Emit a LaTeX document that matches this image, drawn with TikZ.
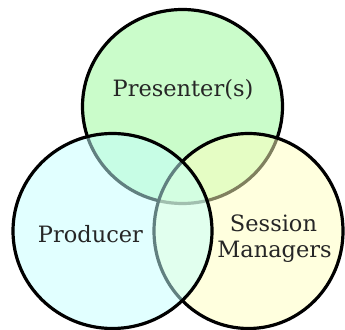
\documentclass[tikz,border=0pt]{standalone}
\usepackage{fontspec}
\setmainfont{DejaVu Serif}
\begin{document}
\begin{tikzpicture}[x=1pt,y=1pt,
  ring/.style={draw=black, line width=3.2pt, fill opacity=0.5},
  lbl/.style={font=\fontsize{22.5}{26}\selectfont, text=black!85, anchor=base, inner sep=0pt}]
\useasboundingbox (0,0) rectangle (345,329);
\definecolor{topfill}{RGB}{150,249,150}
\definecolor{rightfill}{RGB}{255,255,190}
\definecolor{leftfill}{RGB}{195,255,255}
% three overlapping sets, drawn back to front
\draw[ring, fill=topfill]   (182.5,222.5) ellipse [x radius=100, y radius=97];
\draw[ring, fill=rightfill] (248.5,98)    ellipse [x radius=94.5, y radius=97.5];
\draw[ring, fill=leftfill]  (112.5,98)    ellipse [x radius=99.5, y radius=97.5];
% labels
\node[lbl] (pres) at (183,232) {Presenter(s)};
\node[lbl] (prod) at (90.5,86) {Producer};
\node[lbl] (sess) at (273.5,97) {Session};
\node[lbl] (mgr)  at (274.5,71) {Managers};
\end{tikzpicture}
\end{document}
